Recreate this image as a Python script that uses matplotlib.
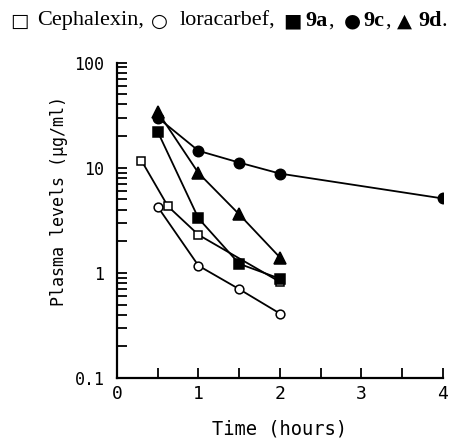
import matplotlib
matplotlib.use("Agg")
import matplotlib.pyplot as plt
from matplotlib.ticker import LogLocator, NullFormatter, FixedLocator

# plasma levels (ug/ml) vs time (hours)
cephalexin_t = [0.3, 0.625, 1.0, 2.0]
cephalexin_y = [11.7, 4.3, 2.3, 0.82]
loracarbef_t = [0.5, 1.0, 1.5, 2.0]
loracarbef_y = [4.25, 1.17, 0.70, 0.41]
c9a_t = [0.5, 1.0, 1.5, 2.0]
c9a_y = [22.0, 3.3, 1.22, 0.88]
c9c_t = [0.5, 1.0, 1.5, 2.0, 4.0]
c9c_y = [30.0, 14.5, 11.2, 8.8, 5.1]
c9d_t = [0.5, 1.0, 1.5, 2.0]
c9d_y = [34.0, 8.9, 3.6, 1.4]

mono = "DejaVu Sans Mono"

fig = plt.figure(figsize=(4.65, 4.38), dpi=100)
ax = fig.add_axes([0.2516, 0.137, 0.701, 0.72])

line_kw = dict(color="black", linewidth=1.3, markeredgewidth=1.1, markeredgecolor="black")
ax.plot(cephalexin_t, cephalexin_y, marker="s", markersize=6.3, markerfacecolor="white", **line_kw)
ax.plot(loracarbef_t, loracarbef_y, marker="o", markersize=6.3, markerfacecolor="white", **line_kw)
ax.plot(c9a_t, c9a_y, marker="s", markersize=6.8, markerfacecolor="black", **line_kw)
ax.plot(c9c_t, c9c_y, marker="o", markersize=7.5, markerfacecolor="black", **line_kw)
ax.plot(c9d_t, c9d_y, marker="^", markersize=8, markerfacecolor="black", **line_kw)

ax.set_yscale("log")
ax.set_xlim(0, 4)
ax.set_ylim(0.1, 100)

ax.spines["top"].set_visible(False)
ax.spines["right"].set_visible(False)
ax.spines["left"].set_linewidth(1.6)
ax.spines["bottom"].set_linewidth(1.6)

ax.yaxis.set_major_locator(FixedLocator([0.1, 1, 10, 100]))
ax.set_yticklabels(["0.1", "1", "10", "100"])
ax.yaxis.set_minor_locator(LogLocator(base=10, subs=range(2, 10)))
ax.yaxis.set_minor_formatter(NullFormatter())
ax.xaxis.set_major_locator(FixedLocator([0, 1, 2, 3, 4]))
ax.xaxis.set_minor_locator(FixedLocator([0.5, 1.5, 2.5, 3.5]))

ax.tick_params(axis="both", which="both", direction="in", width=1.3, length=7)
ax.tick_params(axis="y", which="major", pad=9, labelsize=12)
ax.tick_params(axis="x", which="major", pad=5, labelsize=13)
for lbl in ax.get_xticklabels() + ax.get_yticklabels():
    lbl.set_family(mono)

ax.set_xlabel("Time (hours)", family=mono, fontsize=13.5, labelpad=12)
ax.set_ylabel("Plasma levels (\u03bcg/ml)", family=mono, fontsize=12, labelpad=10)
ax.yaxis.set_label_coords(-0.15, 0.56)

# header legend line
serif = ["Liberation Serif", "DejaVu Sans"]
sym = ["DejaVu Sans"]
y0 = 1 - 21 / 438
pieces = [
    (10, "\u25a1", sym, "normal", 14),
    (37, "Cephalexin,", serif, "normal", 16),
    (151, "\u25cb", sym, "normal", 14),
    (180, "loracarbef,", serif, "normal", 16),
    (283, "\u25a0", sym, "normal", 14),
    (305, "9a", serif, "bold", 16),
    (328, ",", serif, "normal", 16),
    (344, "\u25cf", sym, "normal", 14),
    (363, "9c", serif, "bold", 16),
    (385, ",", serif, "normal", 16),
    (397, "\u25b2", sym, "normal", 14),
    (418, "9d", serif, "bold", 16),
    (441, ".", serif, "normal", 16),
]
for px, txt, fam, wt, fs in pieces:
    fig.text(px / 465, y0, txt, family=fam, weight=wt, fontsize=fs, va="center", ha="left")

fig.savefig("out.png", dpi=100)
